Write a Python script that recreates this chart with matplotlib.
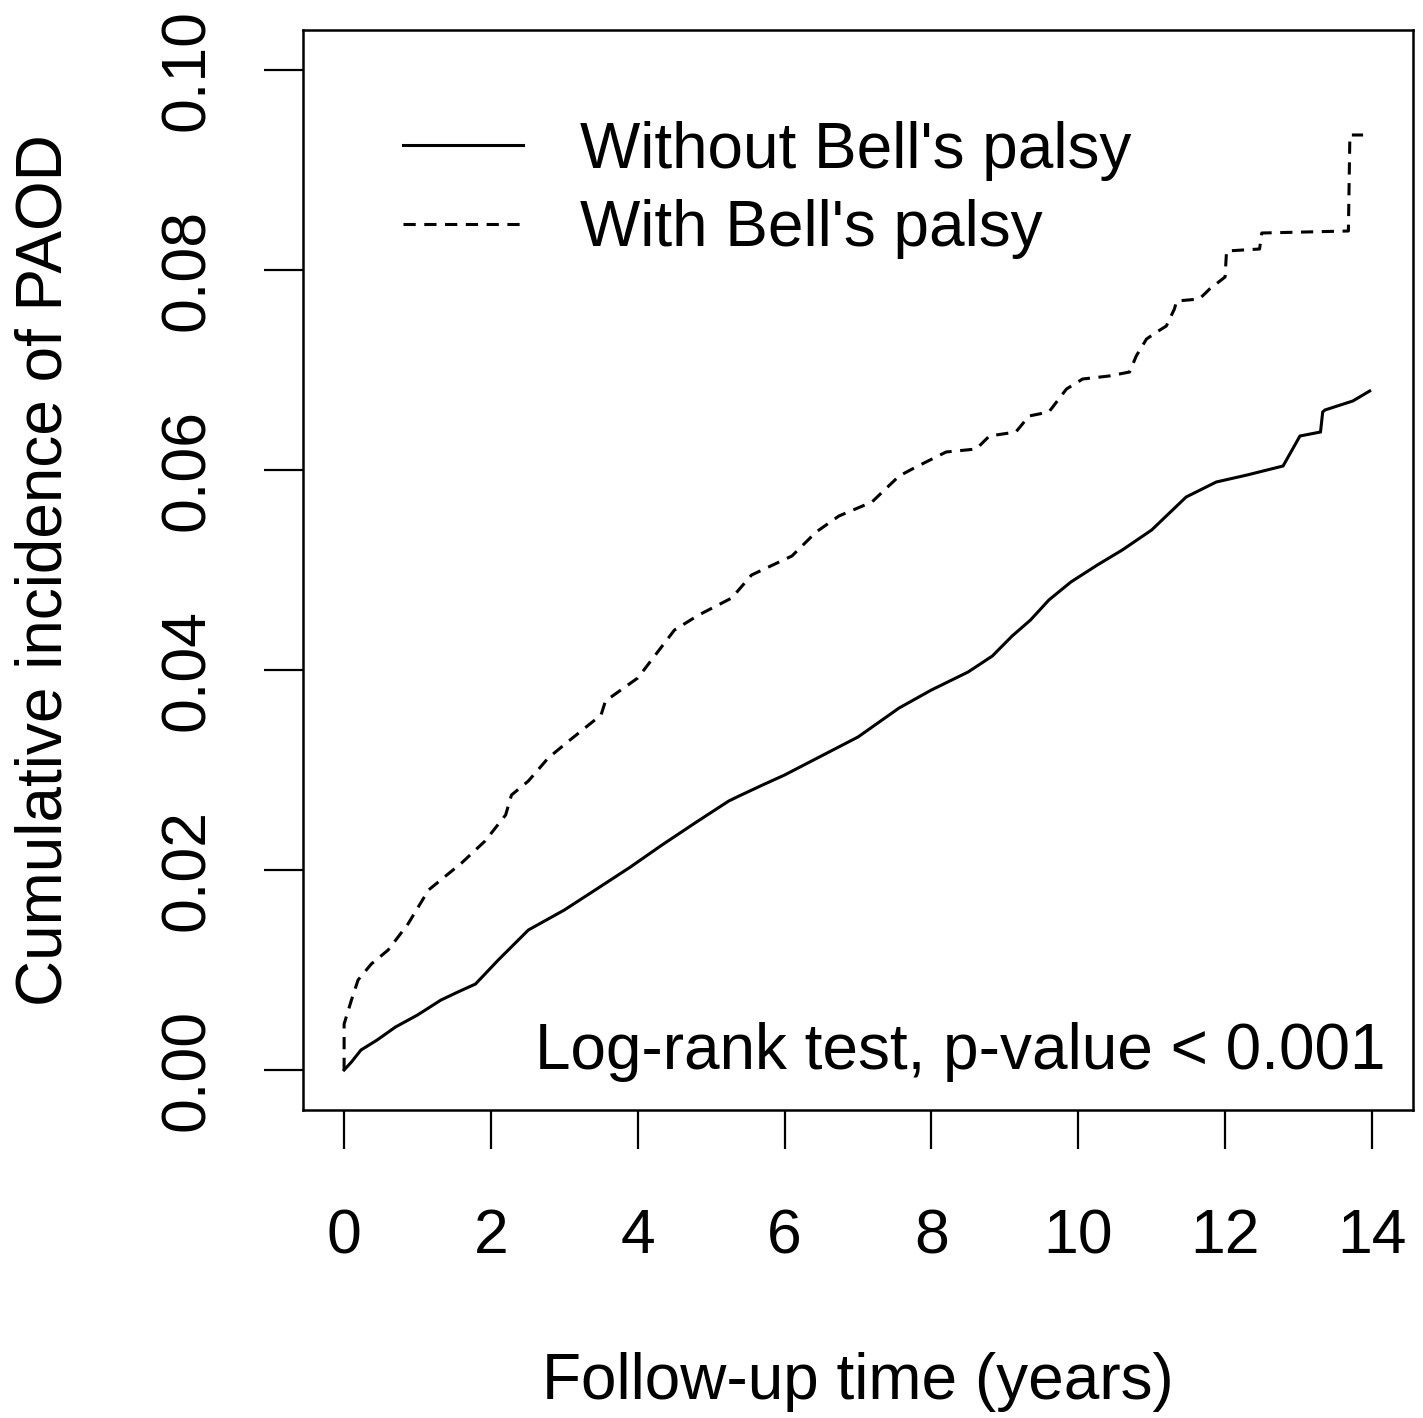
import matplotlib
matplotlib.use("Agg")
import matplotlib.pyplot as plt
import numpy as np

plt.rcParams['font.family'] = ['Liberation Sans', 'DejaVu Sans']

# cumulative incidence (years, incidence)
t_without = [0.0, 0.1, 0.23, 0.45, 0.7, 1.0, 1.32, 1.55, 1.79, 2.1, 2.51, 3.0, 3.42,
             3.9, 4.33, 4.8, 5.24, 5.38, 5.7, 6.0, 6.5, 7.0, 7.56, 8.0, 8.5, 8.83,
             9.1, 9.35, 9.6, 9.9, 10.26, 10.6, 11.0, 11.47, 11.88, 12.3, 12.79,
             13.02, 13.3, 13.33, 13.36, 13.74, 13.97]
y_without = [0.0, 0.0008, 0.002, 0.003, 0.0043, 0.0055, 0.007, 0.0078, 0.0086, 0.011,
             0.014, 0.016, 0.018, 0.0203, 0.0225, 0.0248, 0.0269, 0.0274, 0.0285,
             0.0295, 0.0314, 0.0333, 0.0362, 0.038, 0.0398, 0.0414, 0.0434, 0.045,
             0.047, 0.0488, 0.0505, 0.052, 0.054, 0.0573, 0.0588, 0.0595, 0.0604,
             0.0634, 0.0638, 0.0658, 0.0660, 0.0669, 0.0679]

t_with = [0.0, 0.0, 0.1, 0.19, 0.37, 0.6, 0.87, 1.15, 1.6, 1.92, 2.2, 2.28, 2.51,
          2.78, 3.06, 3.5, 3.56, 4.0, 4.5, 4.83, 5.28, 5.55, 6.1, 6.43, 6.74, 7.19,
          7.56, 7.79, 8.2, 8.61, 8.79, 9.15, 9.33, 9.6, 9.84, 10.06, 10.42, 10.7,
          10.79, 10.93, 11.07, 11.2, 11.31, 11.34, 11.65, 11.79, 12.0, 12.02,
          12.47, 12.5, 13.68, 13.7, 13.88]
y_with = [0.0, 0.0046, 0.007, 0.009, 0.0106, 0.012, 0.0146, 0.018, 0.0207, 0.0229,
          0.0255, 0.0275, 0.0289, 0.0312, 0.0329, 0.0355, 0.0369, 0.0392, 0.0440,
          0.0455, 0.0472, 0.0495, 0.0514, 0.0538, 0.0554, 0.0568, 0.0594, 0.0603,
          0.0618, 0.0621, 0.0634, 0.0638, 0.0654, 0.0658, 0.0681, 0.0691, 0.0694,
          0.0698, 0.0714, 0.0731, 0.0738, 0.0744, 0.0761, 0.0769, 0.0771, 0.0781,
          0.0793, 0.0819, 0.0821, 0.0837, 0.0839, 0.0935, 0.0935]

x_ticks = [0, 2, 4, 6, 8, 10, 12, 14]
y_ticks = [0.00, 0.02, 0.04, 0.06, 0.08, 0.10]
y_labels = ["0.00", "0.02", "0.04", "0.06", "0.08", "0.10"]

fig = plt.figure(figsize=(14.23, 14.18), dpi=100)
ax = fig.add_axes([303 / 1423, 1 - 1110 / 1418, 1110 / 1423, 1080 / 1418])

ax.plot(t_without, y_without, color='black', lw=2.2, solid_joinstyle='miter',
        label="Without Bell's palsy")
ax.plot(t_with, y_with, color='black', lw=2.2, linestyle=(0, (4, 2.8)),
        label="With Bell's palsy")

ax.set_xlim(-0.56, 14.56)
ax.set_ylim(-0.004, 0.104)
ax.set_xticks(x_ticks)
ax.set_yticks(y_ticks)
ax.set_yticklabels(y_labels, rotation=90, va='center')
ax.tick_params(axis='both', length=28, width=1.6, labelsize=45, direction='out')
ax.tick_params(axis='x', pad=42)
ax.tick_params(axis='y', pad=34)
for s in ax.spines.values():
    s.set_linewidth(1.8)

ax.set_xlabel("Follow-up time (years)", fontsize=46, labelpad=62)
ax.set_ylabel("Cumulative incidence of PAOD", fontsize=46, labelpad=60)

ax.legend(loc='upper left', bbox_to_anchor=(0.09, 0.916), frameon=False,
          fontsize=46, handlelength=1.88, handletextpad=0.89, labelspacing=0.29,
          borderpad=0, borderaxespad=0)

ax.text(0.975, 0.0001, "Log-rank test, p-value < 0.001",
        transform=ax.get_yaxis_transform(), ha='right', va='baseline', fontsize=46)

fig.savefig("out.png", dpi=100)
